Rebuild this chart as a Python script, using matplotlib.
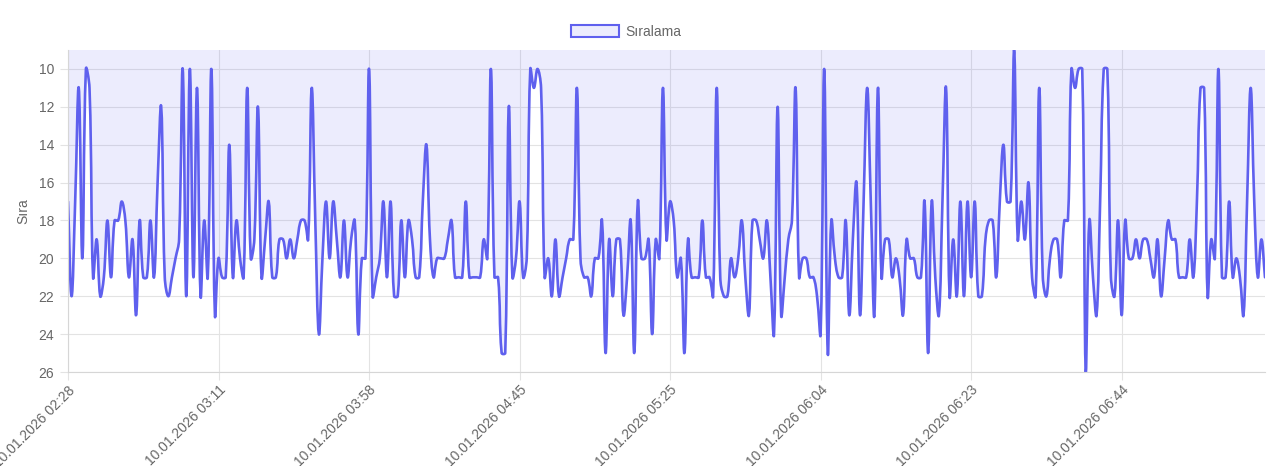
import numpy as np
import matplotlib
matplotlib.use("Agg")
import matplotlib.pyplot as plt
from matplotlib.path import Path
from matplotlib.patches import PathPatch, Patch

plt.rcParams["font.family"] = ["Liberation Sans", "DejaVu Sans"]

#
# Data (rank per sample)
#
ranks = [
    17, 22, 17, 11, 20, 10, 11, 21, 19, 22, 21, 18, 21, 18, 18, 17, 18, 21, 19, 23,
    18, 21, 21, 18, 21, 16, 12, 21, 22, 21, 20, 19, 10, 22, 10, 21, 11, 22, 18, 21,
    10, 23, 20, 21, 21, 14, 21, 18, 20, 21, 11, 20, 19, 12, 21, 19, 17, 21, 21, 19,
    19, 20, 19, 20, 19, 18, 18, 19, 11, 18, 24, 20, 17, 20, 17, 19, 21, 18, 21, 19,
    18, 24, 20, 20, 10, 22, 21, 20, 17, 21, 17, 22, 22, 18, 21, 18, 19, 21, 21, 17,
    14, 19, 21, 20, 20, 20, 19, 18, 21, 21, 21, 17, 21, 21, 21, 21, 19, 20, 10, 21,
    21, 25, 25, 12, 21, 20, 17, 21, 20, 10, 11, 10, 11, 21, 20, 22, 19, 22, 21, 20,
    19, 19, 11, 20, 21, 21, 22, 20, 20, 18, 25, 19, 22, 19, 19, 23, 21, 18, 25, 17,
    20, 20, 19, 24, 19, 20, 11, 19, 17, 18, 21, 20, 25, 19, 21, 21, 21, 18, 21, 21,
    22, 11, 21, 22, 22, 20, 21, 20, 18, 21, 23, 18, 18, 19, 20, 18, 21, 24, 12, 23,
    21, 19, 18, 11, 21, 20, 20, 21, 21, 22, 24, 10, 25, 18, 20, 21, 21, 18, 23, 19,
    16, 23, 17, 11, 17, 23, 11, 21, 19, 19, 21, 20, 21, 23, 19, 20, 20, 21, 21, 17,
    25, 17, 21, 23, 17, 11, 22, 19, 22, 17, 22, 17, 21, 17, 22, 22, 19, 18, 18, 21,
    17, 14, 17, 17, 9, 19, 17, 19, 16, 21, 22, 11, 21, 22, 20, 19, 19, 21, 18, 18,
    10, 11, 10, 10, 26, 18, 21, 23, 17, 10, 10, 21, 22, 18, 23, 18, 20, 20, 19, 20,
    19, 19, 20, 21, 19, 22, 20, 18, 19, 19, 21, 21, 21, 19, 21, 17, 11, 11, 22, 19,
    20, 10, 21, 21, 17, 21, 20, 21, 23, 17, 11, 17, 21, 19, 21,
]
tick_times = [
    "10.01.2026 02:28", "10.01.2026 03:11", "10.01.2026 03:58", "10.01.2026 04:45",
    "10.01.2026 05:25", "10.01.2026 06:04", "10.01.2026 06:23", "10.01.2026 06:44",
]
label_step = 42
y_ticks = [10, 12, 14, 16, 18, 20, 22, 24, 26]

line_col = "#5f60ee"
fill_col = (99 / 255, 102 / 255, 241 / 255, 0.12)
grid_col = "#e3e3e3"
text_col = "#666666"

x = np.arange(len(ranks), dtype=float)
y = np.array(ranks, dtype=float)
y_top, y_bot = 9, 26

#
# Smooth line like a tension-0.4 spline (distances measured in pixels)
#
fig = plt.figure(figsize=(12.8, 4.66), dpi=100)
ax = fig.add_axes([68 / 1280, 94 / 466, 1197 / 1280, 322 / 466])
ax.set_xlim(0, len(ranks) - 1)
ax.set_ylim(y_bot, y_top)
sx = 1197 / (len(ranks) - 1)
sy = 322 / (y_bot - y_top)

tension = 0.4
cp_prev = np.zeros((len(x), 2))
cp_next = np.zeros((len(x), 2))
for i in range(len(x)):
    p = np.array([x[max(i - 1, 0)], y[max(i - 1, 0)]])
    c = np.array([x[i], y[i]])
    n = np.array([x[min(i + 1, len(x) - 1)], y[min(i + 1, len(x) - 1)]])
    d01 = np.hypot((c[0] - p[0]) * sx, (c[1] - p[1]) * sy)
    d12 = np.hypot((n[0] - c[0]) * sx, (n[1] - c[1]) * sy)
    tot = d01 + d12
    s01 = d01 / tot if tot else 0
    s12 = d12 / tot if tot else 0
    cp_prev[i] = c - tension * s01 * (n - p)
    cp_next[i] = c + tension * s12 * (n - p)
cp_prev[:, 1] = np.clip(cp_prev[:, 1], y_top, y_bot)
cp_next[:, 1] = np.clip(cp_next[:, 1], y_top, y_bot)

verts = [(x[0], y[0])]
codes = [Path.MOVETO]
for i in range(len(x) - 1):
    verts += [tuple(cp_next[i]), tuple(cp_prev[i + 1]), (x[i + 1], y[i + 1])]
    codes += [Path.CURVE4] * 3

fill_verts = verts + [(x[-1], y_top), (x[0], y_top), (x[0], y[0])]
fill_codes = codes + [Path.LINETO, Path.LINETO, Path.CLOSEPOLY]
ax.add_patch(PathPatch(Path(fill_verts, fill_codes), facecolor=fill_col, edgecolor="none", zorder=1))
ax.add_patch(PathPatch(Path(verts, codes), facecolor="none", edgecolor=line_col, lw=1.9,
                       joinstyle="round", capstyle="round", zorder=2))

#
# Axes styling
#
ax.set_yticks(y_ticks)
ax.set_xticks(np.arange(0, len(ranks), label_step))
ax.set_xticklabels(tick_times, rotation=45, ha="right", va="top", rotation_mode="anchor")
ax.tick_params(axis="both", colors=grid_col, labelcolor=text_col, labelsize=10, length=6, width=0.8)
ax.tick_params(axis="y", pad=4)
ax.tick_params(axis="x", pad=2)
ax.grid(True, color=grid_col, lw=0.8)
ax.set_axisbelow(True)
for side in ["top", "right"]:
    ax.spines[side].set_visible(False)
for side in ["left", "bottom"]:
    ax.spines[side].set_color("#d6d6d6")
ax.set_ylabel("Sıra", color=text_col, fontsize=10, labelpad=6)

fig.legend(
    handles=[Patch(facecolor=fill_col, edgecolor=line_col, lw=1.5, label="Sıralama")],
    loc="center", bbox_to_anchor=(626 / 1280, 1 - 32 / 466), frameon=False,
    handlelength=3.5, handleheight=1.0, handletextpad=0.45, fontsize=10, labelcolor=text_col,
)

fig.savefig("out.png", dpi=100)
